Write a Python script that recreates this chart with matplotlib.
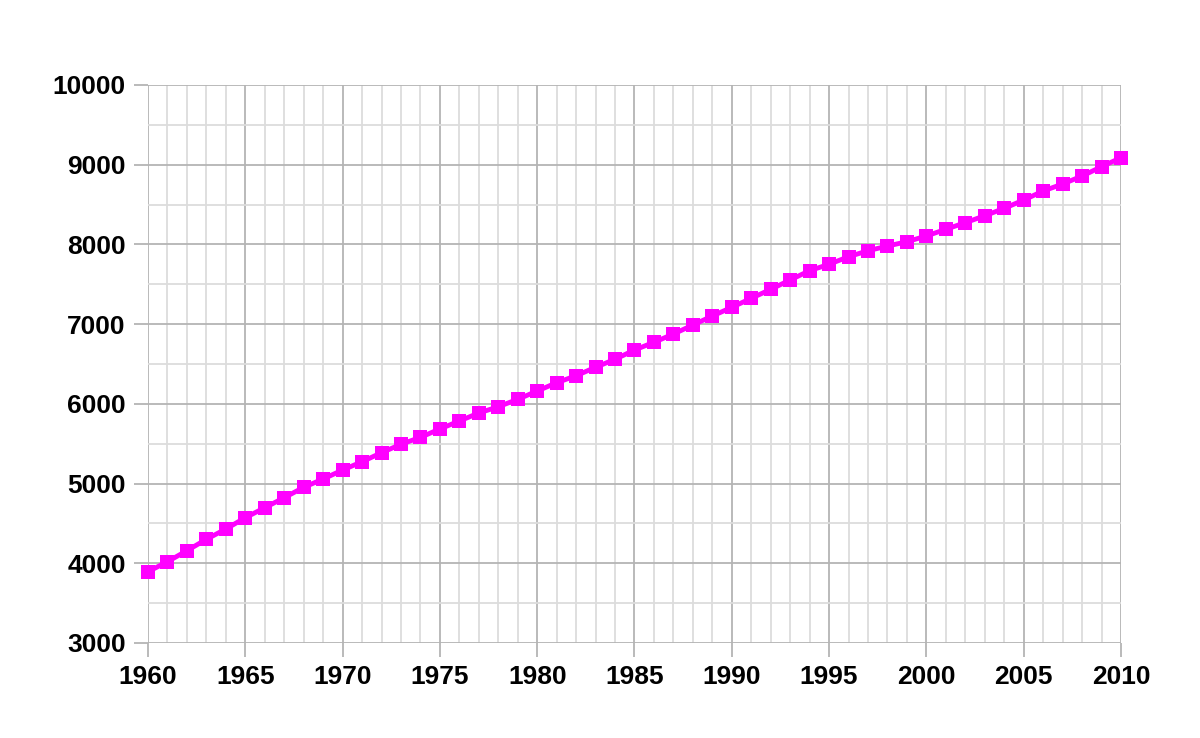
import matplotlib.pyplot as plt
from matplotlib.ticker import MultipleLocator

# Anos e valores
anos = list(range(1960, 2011))
valores = [3894, 4020, 4158, 4301, 4430, 4572, 4697, 4823, 4953, 5057,
           5170, 5274, 5387, 5493, 5580, 5685, 5785, 5885, 5964, 6057,
           6161, 6265, 6353, 6459, 6559, 6676, 6772, 6876, 6989, 7102,
           7211, 7324, 7437, 7554, 7671, 7751, 7846, 7921, 7980, 8034,
           8106, 8190, 8273, 8360, 8453, 8557, 8670, 8758, 8858, 8975,
           9088]

plt.rcParams['font.family'] = ['Liberation Sans', 'DejaVu Sans']

fig = plt.figure(figsize=(12, 7.38), dpi=100)
ax = fig.add_axes([148 / 1200, 1 - 643 / 738, (1121 - 148) / 1200, (643 - 85) / 738])

ax.plot(anos, valores, color='#ff00ff', linewidth=3.5, marker='s',
        markersize=10, markeredgewidth=0, zorder=3, clip_on=False)

ax.set_xlim(1960, 2010)
ax.set_ylim(3000, 10000)
ax.xaxis.set_major_locator(MultipleLocator(5))
ax.xaxis.set_minor_locator(MultipleLocator(1))
ax.yaxis.set_major_locator(MultipleLocator(1000))
ax.yaxis.set_minor_locator(MultipleLocator(500))

ax.grid(which='major', color='#b4b4b4', linewidth=1.3)
ax.grid(which='minor', color='#dcdcdc', linewidth=1.3)
ax.set_axisbelow(True)

for s in ax.spines.values():
    s.set_visible(False)

ax.tick_params(which='major', direction='out', length=10, width=1.3,
               color='#b4b4b4', labelsize=19, pad=6)
ax.tick_params(which='minor', length=0)
for lbl in ax.get_xticklabels() + ax.get_yticklabels():
    lbl.set_fontweight('bold')

plt.savefig('out.png', dpi=100)
